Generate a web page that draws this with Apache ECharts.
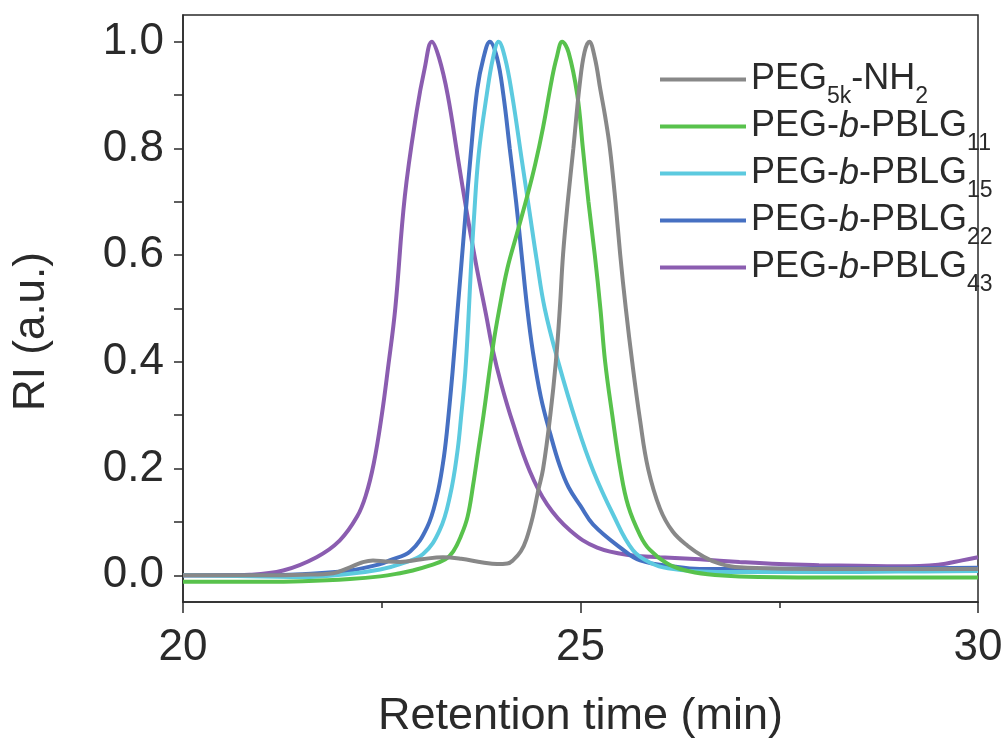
<!DOCTYPE html>
<html>
<head>
<meta charset="utf-8">
<script src="https://cdn.jsdelivr.net/npm/echarts@6/dist/echarts.min.js"></script>
<style>
  html, body { margin: 0; padding: 0; background: #fff; }
  #chart { width: 1006px; height: 744px; }
</style>
</head>
<body>
<div id="chart"></div>
<script>
// GPC traces, [retention time (min), RI]
const peg5k = [
  [20, 0.000], [21, 0.000], [21.5, 0.001], [21.89, 0.004], [22.1, 0.015], [22.25, 0.024], [22.39, 0.028],
  [22.55, 0.026], [22.73, 0.025], [23.0, 0.030], [23.27, 0.034], [23.5, 0.031], [23.77, 0.024], [23.95, 0.021],
  [24.08, 0.022], [24.15, 0.028], [24.25, 0.045], [24.32, 0.068], [24.4, 0.11], [24.47, 0.16], [24.53, 0.20],
  [24.62, 0.30], [24.69, 0.40], [24.74, 0.50], [24.78, 0.60], [24.84, 0.70], [24.91, 0.80], [24.99, 0.92],
  [25.05, 0.98], [25.11, 1.0], [25.18, 0.97], [25.25, 0.91], [25.31, 0.86], [25.37, 0.80], [25.44, 0.70],
  [25.50, 0.60], [25.57, 0.50], [25.65, 0.40], [25.75, 0.29], [25.85, 0.20], [26.0, 0.125], [26.16, 0.082],
  [26.35, 0.055], [26.55, 0.035], [26.75, 0.022], [27, 0.015], [28, 0.012], [29, 0.012], [30, 0.012]
];
const pblg11 = [
  [20, -0.012], [21, -0.012], [21.5, -0.011], [22.1, -0.007], [22.48, -0.002], [22.73, 0.004], [22.89, 0.009],
  [23.1, 0.018], [23.3, 0.03], [23.4, 0.045], [23.5, 0.075], [23.58, 0.11], [23.65, 0.17], [23.72, 0.24],
  [23.78, 0.30], [23.90, 0.43], [23.98, 0.50], [24.08, 0.575], [24.20, 0.64], [24.32, 0.705], [24.43, 0.77],
  [24.53, 0.84], [24.64, 0.93], [24.70, 0.97], [24.77, 1.0], [24.85, 0.98], [24.96, 0.90], [25.03, 0.80],
  [25.10, 0.70], [25.18, 0.60], [25.25, 0.50], [25.31, 0.40], [25.40, 0.30], [25.50, 0.20], [25.60, 0.13],
  [25.75, 0.075], [25.87, 0.048], [26.09, 0.022], [26.3, 0.010], [26.6, 0.002], [27, -0.002], [28, -0.004],
  [29, -0.004], [30, -0.004]
];
const pblg15 = [
  [20, 0.000], [21, -0.002], [21.5, -0.003], [22.1, 0.003], [22.48, 0.011], [22.73, 0.021], [23.02, 0.04],
  [23.23, 0.085], [23.36, 0.15], [23.45, 0.23], [23.50, 0.30], [23.55, 0.38], [23.59, 0.48], [23.62, 0.57],
  [23.66, 0.67], [23.72, 0.79], [23.82, 0.90], [23.90, 0.97], [23.97, 1.0], [24.05, 0.97], [24.14, 0.90],
  [24.26, 0.78], [24.36, 0.68], [24.45, 0.59], [24.55, 0.50], [24.72, 0.40], [24.96, 0.28], [25.16, 0.196],
  [25.41, 0.114], [25.66, 0.047], [25.9, 0.022], [26.1, 0.013], [26.5, 0.007], [27, 0.006], [28, 0.006],
  [29, 0.007], [30, 0.008]
];
const pblg22 = [
  [20, 0.000], [21, 0.000], [21.5, 0.002], [22.1, 0.009], [22.48, 0.021], [22.6, 0.028], [22.86, 0.045],
  [23.07, 0.09], [23.19, 0.146], [23.27, 0.21], [23.32, 0.27], [23.39, 0.38], [23.45, 0.49], [23.5, 0.58],
  [23.55, 0.67], [23.62, 0.79], [23.70, 0.91], [23.78, 0.97], [23.86, 1.0], [23.95, 0.97], [24.03, 0.90],
  [24.11, 0.80], [24.19, 0.70], [24.26, 0.60], [24.33, 0.50], [24.40, 0.42], [24.5, 0.335], [24.62, 0.265],
  [24.74, 0.205], [24.85, 0.165], [25.0, 0.13], [25.16, 0.095], [25.5, 0.052], [25.75, 0.028], [26.2, 0.016],
  [26.5, 0.012], [27, 0.012], [28, 0.013], [29, 0.013], [30, 0.014]
];
const pblg43 = [
  [20, 0.000], [20.5, 0.000], [20.84, 0.001], [21.26, 0.009], [21.68, 0.034], [21.97, 0.065], [22.19, 0.11],
  [22.3, 0.15], [22.4, 0.21], [22.5, 0.30], [22.58, 0.39], [22.67, 0.50], [22.79, 0.71], [22.94, 0.87],
  [23.04, 0.95], [23.13, 1.0], [23.22, 0.97], [23.33, 0.90], [23.46, 0.78], [23.57, 0.68], [23.69, 0.58],
  [23.81, 0.49], [23.9, 0.42], [24.0, 0.36], [24.15, 0.285], [24.36, 0.196], [24.58, 0.133], [24.87, 0.084],
  [25.21, 0.052], [25.66, 0.037], [26.0, 0.034], [26.5, 0.030], [27, 0.025], [27.5, 0.021], [28, 0.019],
  [28.5, 0.018], [29, 0.017], [29.5, 0.020], [29.8, 0.028], [30, 0.034]
];

const seriesNames = ['PEG5k-NH2', 'PEG-b-PBLG11', 'PEG-b-PBLG15', 'PEG-b-PBLG22', 'PEG-b-PBLG43'];
// legend label pieces: [text, style] with sub = subscript, it = italic
const legendLabels = {
  'PEG5k-NH2': [['PEG', 'a'], ['5k', 'sub'], ['-NH', 'a'], ['2', 'sub']],
  'PEG-b-PBLG11': [['PEG-', 'a'], ['b', 'it'], ['-PBLG', 'a'], ['11', 'sub']],
  'PEG-b-PBLG15': [['PEG-', 'a'], ['b', 'it'], ['-PBLG', 'a'], ['15', 'sub']],
  'PEG-b-PBLG22': [['PEG-', 'a'], ['b', 'it'], ['-PBLG', 'a'], ['22', 'sub']],
  'PEG-b-PBLG43': [['PEG-', 'a'], ['b', 'it'], ['-PBLG', 'a'], ['43', 'sub']]
};
const seriesData = [peg5k, pblg11, pblg15, pblg22, pblg43];
const colors = ['#888888', '#58c24c', '#5ccadf', '#4670c2', '#8b5db0'];

const xTicks = [20, 25, 30];
const yLabels = [0, 0.2, 0.4, 0.6, 0.8, 1.0];
const yTicks = [0, 0.1, 0.2, 0.3, 0.4, 0.5, 0.6, 0.7, 0.8, 0.9, 1.0];

const FONT = '"Liberation Sans", Arial, Helvetica, sans-serif';
const ink = '#2a2a2a';

const chart = echarts.init(document.getElementById('chart'));
chart.setOption({
  backgroundColor: '#fff',
  animation: false,
  grid: { left: 183, right: 28, top: 15, bottom: 141, show: true, borderColor: ink, borderWidth: 1.5, backgroundColor: 'transparent' },
  legend: {
    data: seriesNames,
    orient: 'vertical',
    left: 655,
    top: 46,
    itemWidth: 86,
    itemHeight: 4,
    itemGap: -10,
    icon: 'rect',
    formatter: (name) => legendLabels[name].map(([t, s]) => `{${s}|${t}}`).join(''),
    textStyle: {
      color: ink,
      fontFamily: FONT,
      rich: {
        a: { fontSize: 36, lineHeight: 36, fontFamily: FONT, color: ink },
        it: { fontSize: 36, lineHeight: 36, fontStyle: 'italic', fontFamily: FONT, color: ink },
        sub: { fontSize: 23, lineHeight: 22, padding: [34, 0, 0, 0], fontFamily: FONT, color: ink }
      }
    }
  },
  xAxis: {
    type: 'value',
    min: 20,
    max: 30,
    interval: 5,
    name: 'Retention time (min)',
    nameLocation: 'middle',
    nameGap: 92,
    nameTextStyle: { fontSize: 45, fontFamily: FONT, color: ink },
    axisLine: { onZero: false, lineStyle: { color: ink, width: 1.5 } },
    axisTick: { length: 11, lineStyle: { color: ink, width: 1.5 } },
    minorTick: { show: true, splitNumber: 2, length: 6, lineStyle: { color: ink, width: 1.5 } },
    axisLabel: { fontSize: 44, fontFamily: FONT, color: ink, margin: 24, formatter: (v) => xTicks.includes(v) ? String(v) : '' },
    splitLine: { show: false },
    minorSplitLine: { show: false }
  },
  yAxis: {
    type: 'value',
    min: -0.05,
    max: 1.05,
    name: 'RI (a.u.)',
    nameLocation: 'middle',
    nameGap: 129,
    nameTextStyle: { fontSize: 44, fontFamily: FONT, color: ink, padding: [0, 46, 0, 0] },
    axisLine: { onZero: false, lineStyle: { color: ink, width: 1.5 } },
    axisTick: { length: 9, customValues: yTicks, lineStyle: { color: ink, width: 1.5 } },
    axisLabel: { fontSize: 44, fontFamily: FONT, color: ink, margin: 19, customValues: yLabels, formatter: (v) => v.toFixed(1) },
    splitLine: { show: false }
  },
  series: seriesNames.map((name, i) => ({
    name,
    type: 'line',
    data: seriesData[i],
    showSymbol: false,
    symbol: 'none',
    smooth: 0.4,
    color: colors[i],
    lineStyle: { color: colors[i], width: 4 },
    z: 10 - i
  }))
});
</script>
</body>
</html>
